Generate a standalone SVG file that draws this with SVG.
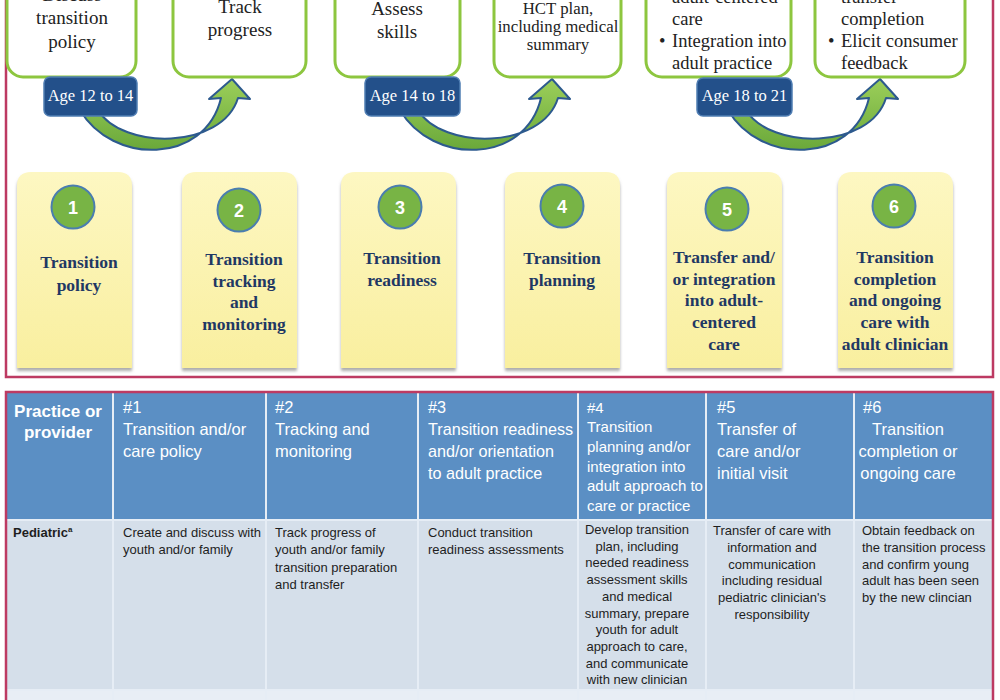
<svg xmlns="http://www.w3.org/2000/svg" width="1000" height="700" viewBox="0 0 1000 700">
<defs>
<style>
.topbox{fill:#ffffff;stroke:#8dc63f;stroke-width:3}
.tb{font-family:"Liberation Serif",serif;font-size:19px;fill:#222;text-anchor:middle}
.tbs{font-family:"Liberation Serif",serif;font-size:16.8px;fill:#222;text-anchor:middle}
.tbl{font-family:"Liberation Serif",serif;font-size:18.5px;fill:#222}
.age{fill:#23508a;stroke:#4f7db3;stroke-width:1.5}
.aget{font-family:"Liberation Serif",serif;font-size:16.5px;fill:#ffffff;text-anchor:middle}
.arrow{fill:url(#ag);stroke:#2d5a8e;stroke-width:2;stroke-linejoin:round}
.card{fill:url(#cg);filter:url(#sh)}
.circ{fill:#78b445;stroke:#4a7db0;stroke-width:2}
.num{font-family:"Liberation Sans",sans-serif;font-weight:bold;font-size:18px;fill:#ffffff;text-anchor:middle}
.ct{font-family:"Liberation Serif",serif;font-weight:bold;font-size:17.5px;fill:#1f3864;text-anchor:middle}
.hd{font-family:"Liberation Sans",sans-serif;font-size:16.5px;fill:#ffffff}
.hd3{font-family:"Liberation Sans",sans-serif;font-size:16.2px;fill:#ffffff}
.hd4{font-family:"Liberation Sans",sans-serif;font-size:15px;fill:#ffffff}
.hdb{font-family:"Liberation Sans",sans-serif;font-size:17px;font-weight:bold;fill:#ffffff;text-anchor:middle}
.bd{font-family:"Liberation Sans",sans-serif;font-size:13px;fill:#1e1e1e}
.bdc{font-family:"Liberation Sans",sans-serif;font-size:13px;fill:#1e1e1e;text-anchor:middle}
.div{stroke:#e6edf5;stroke-width:2}
.frame{fill:none;stroke:#bd3a62;stroke-width:2.5}
</style>
<linearGradient id="ag" x1="0" y1="0" x2="0" y2="1">
<stop offset="0" stop-color="#9ccf5a"/>
<stop offset="1" stop-color="#6aa83a"/>
</linearGradient>
<linearGradient id="cg" x1="0" y1="0" x2="0" y2="1">
<stop offset="0" stop-color="#fdf7c2"/>
<stop offset="1" stop-color="#f9ef9f"/>
</linearGradient>
<filter id="sh" x="-10%" y="-10%" width="120%" height="120%">
<feDropShadow dx="0" dy="3" stdDeviation="1.5" flood-color="#777" flood-opacity="0.6"/>
</filter>
<path id="cardshape" d="M0,196 V14 Q0,0 14,0 H101 Q115,0 115,14 V196 Z"/>
<path id="arrowshape" d="M80,110 C112,165 205,165 221,98 L209,99 L232,79 L250,99 L238,98 C222,150 122,150 98,110 Z"/>
</defs>

<rect width="1000" height="700" fill="#ffffff"/>

<!-- top frame -->
<path class="frame" d="M6,-5 V377 H993 V-5"/>

<!-- connectors (curved arrows) -->
<g id="connectors">
<use href="#arrowshape" class="arrow"/>
<use href="#arrowshape" class="arrow" transform="translate(320,0)"/>
<use href="#arrowshape" class="arrow" transform="translate(648,0)"/>
</g>

<!-- top boxes -->
<g id="box1">
<rect class="topbox" x="7" y="-30" width="129" height="107" rx="16"/>
<text class="tb" x="72" y="1">Discuss</text>
<text class="tb" x="72" y="24">transition</text>
<text class="tb" x="72" y="48">policy</text>
</g>
<g id="box2">
<rect class="topbox" x="173" y="-30" width="133" height="107" rx="16"/>
<text class="tb" x="240" y="13">Track</text>
<text class="tb" x="240" y="36">progress</text>
</g>
<g id="box3">
<rect class="topbox" x="335" y="-30" width="125" height="107" rx="16"/>
<text class="tb" x="397" y="15">Assess</text>
<text class="tb" x="397" y="38">skills</text>
</g>
<g id="box4">
<rect class="topbox" x="494" y="-30" width="127" height="107" rx="16"/>
<text class="tbs" x="558" y="14">HCT plan,</text>
<text class="tbs" x="558" y="31.5">including medical</text>
<text class="tbs" x="558" y="50">summary</text>
</g>
<g id="box5">
<rect class="topbox" x="646" y="-30" width="145" height="107" rx="16"/>
<text class="tbl" x="672" y="2.5">adult-centered</text>
<text class="tbl" x="672" y="25">care</text>
<text class="tbl" x="659" y="47">•</text>
<text class="tbl" x="672" y="47">Integration into</text>
<text class="tbl" x="672" y="69">adult practice</text>
</g>
<g id="box6">
<rect class="topbox" x="815" y="-30" width="150" height="107" rx="16"/>
<text class="tbl" x="841" y="3">transfer</text>
<text class="tbl" x="841" y="25">completion</text>
<text class="tbl" x="828" y="47">•</text>
<text class="tbl" x="841" y="47">Elicit consumer</text>
<text class="tbl" x="841" y="69">feedback</text>
</g>

<!-- age labels -->
<g id="age1">
<rect class="age" x="44" y="77" width="93" height="39" rx="6"/>
<text class="aget" x="90.5" y="101">Age 12 to 14</text>
</g>
<g id="age2">
<rect class="age" x="365" y="77" width="95" height="39" rx="6"/>
<text class="aget" x="412.5" y="101">Age 14 to 18</text>
</g>
<g id="age3">
<rect class="age" x="697" y="78" width="95" height="38" rx="6"/>
<text class="aget" x="744.5" y="101">Age 18 to 21</text>
</g>

<!-- cards -->
<g id="card1">
<use href="#cardshape" class="card" transform="translate(17,172)"/>
<circle class="circ" cx="73" cy="207" r="21.5"/>
<text class="num" x="73" y="213.5">1</text>
<text class="ct" x="79" y="268">Transition</text>
<text class="ct" x="79" y="291">policy</text>
</g>
<g id="card2">
<use href="#cardshape" class="card" transform="translate(182,172)"/>
<circle class="circ" cx="239" cy="210" r="21.5"/>
<text class="num" x="239" y="216.5">2</text>
<text class="ct" x="244" y="265">Transition</text>
<text class="ct" x="244" y="286.5">tracking</text>
<text class="ct" x="244" y="308">and</text>
<text class="ct" x="244" y="330">monitoring</text>
</g>
<g id="card3">
<use href="#cardshape" class="card" transform="translate(341,172)"/>
<circle class="circ" cx="400" cy="207" r="21.5"/>
<text class="num" x="400" y="213.5">3</text>
<text class="ct" x="402" y="264">Transition</text>
<text class="ct" x="402" y="285.5">readiness</text>
</g>
<g id="card4">
<use href="#cardshape" class="card" transform="translate(505,172)"/>
<circle class="circ" cx="562" cy="206" r="21.5"/>
<text class="num" x="562" y="212.5">4</text>
<text class="ct" x="562" y="264">Transition</text>
<text class="ct" x="562" y="285.5">planning</text>
</g>
<g id="card5">
<use href="#cardshape" class="card" transform="translate(667,172)"/>
<circle class="circ" cx="727" cy="209" r="21.5"/>
<text class="num" x="727" y="215.5">5</text>
<text class="ct" x="724" y="263">Transfer and/</text>
<text class="ct" x="724" y="284.5">or integration</text>
<text class="ct" x="724" y="306">into adult-</text>
<text class="ct" x="724" y="328">centered</text>
<text class="ct" x="724" y="349.5">care</text>
</g>
<g id="card6">
<use href="#cardshape" class="card" transform="translate(838,172)"/>
<circle class="circ" cx="894" cy="206" r="21.5"/>
<text class="num" x="894" y="212.5">6</text>
<text class="ct" x="895" y="263">Transition</text>
<text class="ct" x="895" y="284.5">completion</text>
<text class="ct" x="895" y="306">and ongoing</text>
<text class="ct" x="895" y="328">care with</text>
<text class="ct" x="895" y="349.5">adult clinician</text>
</g>

<!-- table -->
<g id="table">
<rect x="7" y="392" width="986" height="127" fill="#5b8fc4"/>
<rect x="7" y="521" width="986" height="168" fill="#d5dfea"/>
<rect x="7" y="691" width="986" height="12" fill="#e8eef5"/>
<line class="div" x1="7" y1="520" x2="993" y2="520"/>
<line class="div" x1="7" y1="690" x2="993" y2="690"/>
<line class="div" x1="113" y1="392" x2="113" y2="700"/>
<line class="div" x1="266" y1="392" x2="266" y2="700"/>
<line class="div" x1="418" y1="392" x2="418" y2="700"/>
<line class="div" x1="578" y1="392" x2="578" y2="700"/>
<line class="div" x1="706" y1="392" x2="706" y2="700"/>
<line class="div" x1="854" y1="392" x2="854" y2="700"/>
<path class="frame" d="M6,705 V392 H993 V705"/>
</g>

<g id="header">
<text class="hdb" x="58" y="417">Practice or</text>
<text class="hdb" x="58" y="438">provider</text>
<text class="hd" x="123" y="413">#1</text>
<text class="hd" x="123" y="435">Transition and/or</text>
<text class="hd" x="123" y="457">care policy</text>
<text class="hd" x="275" y="413">#2</text>
<text class="hd" x="275" y="435">Tracking and</text>
<text class="hd" x="275" y="457">monitoring</text>
<text class="hd3" x="428" y="413">#3</text>
<text class="hd3" x="428" y="435">Transition readiness</text>
<text class="hd3" x="428" y="457">and/or orientation</text>
<text class="hd3" x="428" y="479">to adult practice</text>
<text class="hd4" x="587" y="413">#4</text>
<text class="hd4" x="587" y="432">Transition</text>
<text class="hd4" x="587" y="452">planning and/or</text>
<text class="hd4" x="587" y="472">integration into</text>
<text class="hd4" x="587" y="491">adult approach to</text>
<text class="hd4" x="587" y="511">care or practice</text>
<text class="hd" x="717" y="413">#5</text>
<text class="hd" x="717" y="435">Transfer of</text>
<text class="hd" x="717" y="457">care and/or</text>
<text class="hd" x="717" y="479">initial visit</text>
<text class="hd" x="863" y="413">#6</text>
<text class="hd" x="908" y="435" text-anchor="middle">Transition</text>
<text class="hd" x="908" y="457" text-anchor="middle">completion or</text>
<text class="hd" x="908" y="479" text-anchor="middle">ongoing care</text>
</g>

<g id="row-pediatric">
<text class="bd" x="13" y="537" font-weight="bold">Pediatric<tspan font-size="8" dy="-5">a</tspan></text>
<text class="bd" x="123" y="537">Create and discuss with</text>
<text class="bd" x="123" y="554">youth and/or family</text>
<text class="bd" x="275" y="537">Track progress of</text>
<text class="bd" x="275" y="554">youth and/or family</text>
<text class="bd" x="275" y="571.5">transition preparation</text>
<text class="bd" x="275" y="588.5">and transfer</text>
<text class="bd" x="428" y="537">Conduct transition</text>
<text class="bd" x="428" y="554">readiness assessments</text>
<text class="bdc" x="637" y="534">Develop transition</text>
<text class="bdc" x="637" y="550.7">plan, including</text>
<text class="bdc" x="637" y="567.4">needed readiness</text>
<text class="bdc" x="637" y="584.1">assessment skills</text>
<text class="bdc" x="637" y="600.8">and medical</text>
<text class="bdc" x="637" y="617.5">summary, prepare</text>
<text class="bdc" x="637" y="634.2">youth for adult</text>
<text class="bdc" x="637" y="650.9">approach to care,</text>
<text class="bdc" x="637" y="667.6">and communicate</text>
<text class="bdc" x="637" y="684.3">with new clinician</text>
<text class="bdc" x="772" y="535">Transfer of care with</text>
<text class="bdc" x="772" y="551.8">information and</text>
<text class="bdc" x="772" y="568.6">communication</text>
<text class="bdc" x="772" y="585.4">including residual</text>
<text class="bdc" x="772" y="602.2">pediatric clinician's</text>
<text class="bdc" x="772" y="619">responsibility</text>
<text class="bd" x="862" y="535">Obtain feedback on</text>
<text class="bd" x="862" y="551.8">the transition process</text>
<text class="bd" x="862" y="568.6">and confirm young</text>
<text class="bd" x="862" y="585.4">adult has been seen</text>
<text class="bd" x="862" y="602.2">by the new clincian</text>
</g>
</svg>
